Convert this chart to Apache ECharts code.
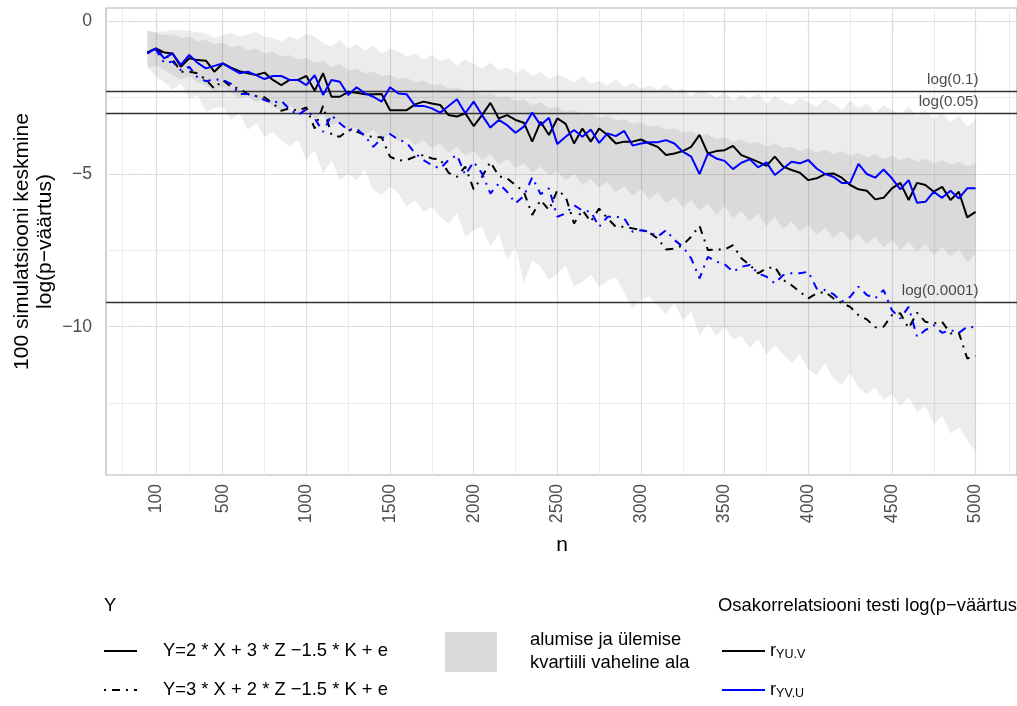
<!DOCTYPE html>
<html><head><meta charset="utf-8">
<script src="https://cdn.jsdelivr.net/npm/echarts@6/dist/echarts.min.js"></script>
<style>html,body{margin:0;padding:0;background:#fff}#c{width:1017px;height:706px}</style>
</head><body><div id="c"></div>
<script>
// ---- data ----
const nValues = [50,100,150,200,250,300,350,400,450,500,550,600,650,700,750,800,850,900,950,1000,
1050,1100,1150,1200,1250,1300,1350,1400,1450,1500,1550,1600,1650,1700,1750,1800,1850,1900,1950,2000,
2050,2100,2150,2200,2250,2300,2350,2400,2450,2500,2550,2600,2650,2700,2750,2800,2850,2900,2950,3000,
3050,3100,3150,3200,3250,3300,3350,3400,3450,3500,3550,3600,3650,3700,3750,3800,3850,3900,3950,4000,
4050,4100,4150,4200,4250,4300,4350,4400,4450,4500,4550,4600,4650,4700,4750,4800,4850,4900,4950,5000];

// Y=2X+3Z-1.5K+e, test r_YU.V (black solid)
const y1_rYUV = [-1.02,-0.89,-1.02,-1.05,-1.49,-1.21,-1.27,-1.29,-1.65,-1.38,
-1.52,-1.63,-1.70,-1.76,-1.68,-1.92,-2.09,-1.92,-1.92,-1.79,
-2.27,-1.70,-2.47,-2.47,-2.31,-2.34,-2.39,-2.39,-2.38,-2.91,
-2.91,-2.91,-2.72,-2.63,-2.69,-2.74,-3.07,-3.12,-3.01,-3.43,
-3.07,-2.67,-3.18,-3.07,-3.23,-3.32,-3.94,-3.29,-3.72,-3.18,
-3.36,-4.00,-3.51,-3.94,-3.51,-3.72,-4.00,-3.94,-3.94,-3.87,
-4.00,-4.11,-4.38,-4.33,-4.25,-4.11,-3.72,-4.33,-4.25,-4.22,
-4.08,-4.38,-4.49,-4.60,-4.73,-4.43,-4.76,-4.87,-4.96,-5.20,
-5.14,-5.00,-4.98,-5.12,-5.36,-5.50,-5.55,-5.83,-5.78,-5.47,
-5.29,-5.85,-5.29,-5.36,-5.58,-5.42,-5.85,-5.58,-6.42,-6.24];
// Y=2X+3Z-1.5K+e, test r_YV.U (blue solid)
const y1_rYVU = [-1.05,-0.89,-1.21,-1.05,-1.43,-1.10,-1.36,-1.54,-1.46,-1.38,
-1.54,-1.70,-1.65,-1.76,-1.89,-1.79,-1.79,-1.92,-1.92,-2.09,
-1.76,-2.41,-1.92,-1.98,-2.41,-2.16,-2.36,-2.47,-2.63,-2.16,
-2.36,-2.39,-2.77,-2.77,-2.85,-2.99,-2.77,-2.55,-3.01,-2.63,
-3.07,-3.48,-3.23,-3.40,-3.65,-3.45,-2.99,-3.40,-3.16,-4.02,
-3.78,-3.56,-3.78,-3.54,-3.98,-3.67,-3.76,-3.59,-4.07,-4.00,
-3.96,-3.96,-3.89,-4.00,-4.27,-4.43,-5.00,-4.33,-4.49,-4.57,
-4.84,-4.63,-4.52,-4.78,-4.62,-5.03,-4.82,-4.60,-4.65,-4.54,
-4.82,-5.00,-5.09,-5.29,-5.29,-4.67,-5.00,-5.12,-4.85,-5.14,
-5.50,-5.20,-5.94,-5.91,-5.58,-5.78,-5.55,-5.80,-5.47,-5.47];
// Y=3X+2Z-1.5K+e, test r_YU.V (black dot-dash)
const y2_rYUV = [-1.03,-0.92,-1.10,-1.25,-1.65,-1.65,-1.70,-1.92,-2.20,-1.92,
-2.14,-2.20,-2.38,-2.45,-2.49,-2.69,-2.93,-2.85,-2.93,-2.82,
-3.51,-2.77,-3.72,-3.78,-3.56,-3.61,-3.72,-3.80,-3.80,-4.43,
-4.56,-4.54,-4.43,-4.38,-4.49,-4.52,-4.96,-5.09,-4.76,-5.50,
-5.09,-4.60,-5.07,-5.14,-5.36,-5.58,-6.34,-5.85,-6.18,-5.53,
-5.74,-6.62,-6.18,-6.56,-6.13,-6.45,-6.73,-6.73,-6.78,-6.83,
-6.92,-7.11,-7.47,-7.44,-7.33,-7.05,-6.70,-7.49,-7.47,-7.47,
-7.33,-7.76,-7.98,-8.25,-8.09,-8.04,-8.47,-8.64,-8.86,-9.07,
-8.91,-8.86,-9.07,-9.22,-9.35,-9.62,-9.76,-10.02,-10.00,-9.62,
-9.56,-10.05,-9.54,-9.84,-9.89,-9.84,-10.22,-10.20,-11.04,-10.96];
// Y=3X+2Z-1.5K+e, test r_YV.U (blue dot-dash)
const y2_rYVU = [-1.05,-0.92,-1.36,-1.32,-1.60,-1.49,-1.84,-1.96,-1.90,-1.92,
-2.05,-2.38,-2.38,-2.45,-2.58,-2.67,-2.60,-2.88,-3.07,-2.88,
-3.18,-3.62,-3.07,-3.34,-3.56,-3.51,-3.76,-4.11,-3.83,-3.69,
-3.87,-3.98,-4.32,-4.54,-4.71,-4.82,-4.54,-4.38,-5.03,-4.60,
-4.98,-5.64,-5.31,-5.58,-5.96,-5.72,-5.11,-5.66,-5.47,-6.40,
-6.29,-6.02,-6.20,-6.23,-6.73,-6.40,-6.40,-6.45,-6.89,-6.84,
-6.89,-7.05,-6.84,-7.16,-7.38,-7.76,-8.42,-7.71,-7.87,-7.95,
-8.20,-8.04,-7.98,-8.25,-8.36,-8.58,-8.31,-8.25,-8.25,-8.20,
-8.75,-8.80,-8.93,-9.18,-9.02,-8.69,-8.96,-9.07,-8.80,-9.46,
-9.73,-9.35,-10.33,-10.11,-9.95,-10.20,-10.11,-10.20,-10.00,-10.02];

// interquartile bands
const y1_upperQ = [-0.30,-0.35,-0.33,-0.29,-0.30,-0.31,-0.36,-0.40,-0.55,-0.45,
-0.38,-0.50,-0.42,-0.35,-0.50,-0.55,-0.66,-0.50,-0.60,-0.40,
-0.50,-0.72,-0.83,-0.60,-0.90,-0.75,-0.95,-0.80,-1.05,-0.90,
-1.00,-1.15,-1.05,-1.25,-1.10,-1.30,-1.20,-1.45,-1.25,-1.40,
-1.55,-1.35,-1.60,-1.50,-1.70,-1.55,-1.80,-1.65,-1.90,-1.75,
-1.85,-2.00,-1.80,-2.05,-1.95,-2.10,-1.90,-2.15,-2.00,-2.20,
-2.10,-2.25,-2.05,-2.30,-2.20,-2.45,-2.25,-2.35,-2.50,-2.30,
-2.60,-2.40,-2.55,-2.35,-2.70,-2.45,-2.60,-2.75,-2.50,-2.65,
-2.80,-2.55,-2.70,-2.90,-2.60,-2.85,-2.70,-3.00,-2.75,-2.90,
-3.05,-2.80,-3.10,-2.90,-3.20,-3.00,-3.30,-3.10,-3.45,-3.20];
const y1_lowerQ = [-1.50,-1.45,-1.60,-1.75,-1.90,-1.80,-2.00,-2.10,-2.30,-2.15,
-2.35,-2.50,-2.45,-2.65,-2.55,-2.80,-2.90,-2.75,-3.00,-2.85,
-3.20,-3.05,-3.40,-3.30,-3.60,-3.45,-3.70,-3.55,-3.85,-3.70,
-3.95,-3.80,-4.05,-3.90,-4.15,-4.00,-4.30,-4.10,-4.40,-4.25,
-4.55,-4.35,-4.70,-4.50,-4.80,-4.65,-4.95,-4.75,-5.05,-4.90,
-5.20,-5.00,-5.35,-5.15,-5.45,-5.25,-5.60,-5.40,-5.70,-5.50,
-5.85,-5.60,-5.95,-5.75,-6.10,-5.85,-6.20,-5.95,-6.35,-6.05,
-6.45,-6.20,-6.55,-6.30,-6.70,-6.40,-6.80,-6.55,-6.90,-6.65,
-7.00,-6.75,-7.10,-6.85,-7.20,-6.95,-7.30,-7.05,-7.40,-7.15,
-7.50,-7.20,-7.55,-7.30,-7.65,-7.40,-7.70,-7.45,-7.90,-7.60];
const y2_upperQ = [-0.32,-0.38,-0.45,-0.42,-0.55,-0.50,-0.65,-0.60,-0.75,-0.70,
-0.85,-0.80,-0.95,-0.90,-1.05,-1.00,-1.15,-1.10,-1.25,-1.20,
-1.35,-1.30,-1.50,-1.40,-1.60,-1.55,-1.70,-1.65,-1.80,-1.75,
-1.90,-1.85,-2.00,-1.95,-2.10,-2.05,-2.20,-2.15,-2.30,-2.25,
-2.40,-2.35,-2.50,-2.45,-2.60,-2.55,-2.75,-2.65,-2.85,-2.80,
-2.95,-2.90,-3.05,-3.00,-3.15,-3.10,-3.25,-3.20,-3.35,-3.30,
-3.45,-3.40,-3.55,-3.50,-3.65,-3.60,-3.75,-3.70,-3.85,-3.80,
-3.95,-3.85,-4.00,-3.95,-4.10,-4.00,-4.15,-4.10,-4.25,-4.15,
-4.30,-4.20,-4.35,-4.25,-4.40,-4.30,-4.45,-4.35,-4.50,-4.40,
-4.55,-4.45,-4.60,-4.50,-4.65,-4.55,-4.70,-4.60,-4.75,-4.65];
const y2_lowerQ = [-1.49,-1.81,-1.98,-2.25,-2.03,-2.52,-2.41,-2.96,-2.85,-2.80,
-3.23,-3.01,-3.56,-3.34,-3.78,-3.62,-3.89,-4.11,-3.89,-4.54,
-4.22,-4.98,-4.54,-5.20,-4.98,-5.20,-4.87,-5.53,-5.69,-5.42,
-5.64,-6.07,-5.85,-6.24,-6.07,-6.40,-6.62,-6.29,-7.05,-6.84,
-6.73,-7.38,-6.95,-7.82,-7.38,-8.58,-7.82,-8.04,-8.47,-8.26,
-8.00,-8.69,-8.53,-8.30,-8.69,-8.50,-8.37,-8.90,-9.40,-9.10,
-9.02,-9.30,-9.60,-9.20,-9.80,-9.50,-10.30,-9.90,-10.30,-10.00,
-10.40,-10.30,-10.70,-10.40,-10.90,-10.60,-10.90,-11.20,-10.90,-11.40,
-11.60,-11.20,-11.70,-11.90,-11.50,-12.00,-12.20,-12.00,-12.40,-12.20,
-12.60,-12.30,-12.80,-12.60,-13.20,-12.90,-13.50,-13.30,-13.70,-14.10];

// axis ticks / gridlines
const xTickLabels = [100,500,1000,1500,2000,2500,3000,3500,4000,4500,5000];
const xMinorGrid = [-100,300,750,1250,1750,2250,2750,3250,3750,4250,4750,5200];
const yTickLabels = [0,-5,-10];
const yMinorGrid = [-2.5,-7.5,-12.5];
const refP = [0.1, 0.05, 0.0001];
const refLabels = ['log(0.1)','log(0.05)','log(0.0001)'];

// ---- chart ----
const FONT = '"Liberation Sans", Arial, Helvetica, sans-serif';
const chart = echarts.init(document.getElementById('c'), null, {renderer:'canvas'});
const pairs = arr => nValues.map((n,i)=>[n, arr[i]]);
const minus = v => String(v).replace('-', '\u2212');
const DOTDASH = [2,6,8,6];
const LEG = '18.4px ' + FONT;

function band(name, up, lo, fill){
  return {
    type:'custom', name, silent:true, z:2, animation:false,
    data:[[nValues[0], up[0]]],
    renderItem(params, api){
      const pts=[];
      for(let i=0;i<nValues.length;i++) pts.push(api.coord([nValues[i], up[i]]));
      for(let i=nValues.length-1;i>=0;i--) pts.push(api.coord([nValues[i], lo[i]]));
      return {type:'polygon', shape:{points:pts}, style:{fill, stroke:null}};
    }
  };
}
function gridLines(vals, axis, color, width){
  return {
    type:'line', data:[], silent:true, animation:false,
    markLine:{silent:true, symbol:['none','none'], label:{show:false}, z:1, animation:false,
      lineStyle:{color, width, type:'solid'},
      emphasis:{disabled:true},
      data: vals.map(v => ({[axis]: v}))}
  };
}
const bandFill = 'rgba(40,40,40,0.085)';

const option = {
  backgroundColor:'#ffffff',
  animation:false,
  textStyle:{fontFamily:FONT},
  grid:{left:106, top:8, width:913, height:467, show:true, borderColor:'#B3B3B3', borderWidth:1.2, backgroundColor:'transparent', containLabel:false},
  xAxis:{type:'value', min:-197.5, max:5247.5,
    axisLine:{show:false}, splitLine:{show:false},
    axisTick:{show:true, customValues:xTickLabels, length:6, lineStyle:{color:'#B3B3B3', width:1.2}},
    axisLabel:{customValues:xTickLabels, rotate:90, margin:9, color:'#4D4D4D', fontSize:17.6, fontFamily:FONT, formatter:v=>String(v)}},
  yAxis:{type:'value', min:-14.855, max:0.436,
    axisLine:{show:false}, splitLine:{show:false},
    axisTick:{show:true, customValues:yTickLabels, length:7, lineStyle:{color:'#B3B3B3', width:1.2}},
    axisLabel:{customValues:yTickLabels, margin:14, color:'#4D4D4D', fontSize:17.6, fontFamily:FONT, formatter:minus}},
  series:[
    gridLines(xMinorGrid,'xAxis','#EBEBEB',1),
    gridLines(yMinorGrid,'yAxis','#EBEBEB',1),
    gridLines(xTickLabels,'xAxis','#DEDEDE',1.2),
    gridLines(yTickLabels,'yAxis','#DEDEDE',1.2),
    band('Y1 kvartiilid', y1_upperQ, y1_lowerQ, bandFill),
    band('Y2 kvartiilid', y2_upperQ, y2_lowerQ, bandFill),
    {type:'line', name:'ref', data:[], silent:true,
      markLine:{silent:true, symbol:['none','none'], z:3, animation:false, label:{show:false},
        lineStyle:{color:'#333333', width:1.3, type:'solid'},
        data: refP.map(p=>({yAxis: Math.log(p)}))}},
    {type:'scatter', name:'refLabels', silent:true, z:6, symbolSize:0,
      data: refP.map((p,i)=>({value:[5000, Math.log(p)], name:refLabels[i]})),
      label:{show:true, formatter:p=>p.name, position:[3,-4], align:'right', verticalAlign:'bottom',
        color:'#1a1a1a', fontSize:15.2, fontFamily:FONT}},
    {type:'line', name:'Y1 rYU.V', data:pairs(y1_rYUV), symbol:'none', z:4, lineStyle:{color:'#000000', width:2}},
    {type:'line', name:'Y2 rYU.V', data:pairs(y2_rYUV), symbol:'none', z:4, lineStyle:{color:'#000000', width:2, type:DOTDASH}},
    {type:'line', name:'Y1 rYV.U', data:pairs(y1_rYVU), symbol:'none', z:5, lineStyle:{color:'#0000FF', width:2}},
    {type:'line', name:'Y2 rYV.U', data:pairs(y2_rYVU), symbol:'none', z:5, lineStyle:{color:'#0000FF', width:2, type:DOTDASH}}
  ],
  graphic:[
    {type:'text', x:34, y:241.5, rotation:Math.PI/2, style:{text:'100 simulatsiooni keskmine\nlog(p\u2212väärtus)', font:'21px '+FONT, lineHeight:23, align:'center', verticalAlign:'middle', fill:'#000'}},
    {type:'text', x:562, y:545, style:{text:'n', font:'21px '+FONT, align:'center', verticalAlign:'middle', fill:'#000'}},
    // legend: linetype
    {type:'text', x:104, y:606, style:{text:'Y', font:LEG, align:'left', verticalAlign:'middle', fill:'#000'}},
    {type:'line', shape:{x1:104,y1:651,x2:137,y2:651}, style:{stroke:'#000', lineWidth:2}},
    {type:'text', x:163, y:651, style:{text:'Y=2 * X + 3 * Z \u22121.5 * K + e', font:LEG, align:'left', verticalAlign:'middle', fill:'#000'}},
    {type:'line', shape:{x1:104,y1:690,x2:137,y2:690}, style:{stroke:'#000', lineWidth:2, lineDash:DOTDASH}},
    {type:'text', x:163, y:690, style:{text:'Y=3 * X + 2 * Z \u22121.5 * K + e', font:LEG, align:'left', verticalAlign:'middle', fill:'#000'}},
    // legend: fill
    {type:'rect', shape:{x:445,y:632,width:52,height:40}, style:{fill:'#D9D9D9'}},
    {type:'text', x:530, y:651, style:{text:'alumise ja ülemise\nkvartiili vaheline ala', font:LEG, lineHeight:23, align:'left', verticalAlign:'middle', fill:'#000'}},
    // legend: colour
    {type:'text', x:718, y:606, style:{text:'Osakorrelatsiooni testi log(p\u2212väärtus)', font:LEG, align:'left', verticalAlign:'middle', fill:'#000'}},
    {type:'line', shape:{x1:722,y1:651,x2:765,y2:651}, style:{stroke:'#000', lineWidth:2}},
    {type:'text', x:770, y:651, style:{text:'{r|r}{s|YU.V}', rich:{r:{font:LEG, fill:'#000'}, s:{font:'12.5px '+FONT, fill:'#000', padding:[8,0,0,0]}}, align:'left', verticalAlign:'middle'}},
    {type:'line', shape:{x1:722,y1:690,x2:765,y2:690}, style:{stroke:'#0000FF', lineWidth:2}},
    {type:'text', x:770, y:690, style:{text:'{r|r}{s|YV.U}', rich:{r:{font:LEG, fill:'#000'}, s:{font:'12.5px '+FONT, fill:'#000', padding:[8,0,0,0]}}, align:'left', verticalAlign:'middle'}}
  ]
};
chart.setOption(option);
</script>
</body></html>
